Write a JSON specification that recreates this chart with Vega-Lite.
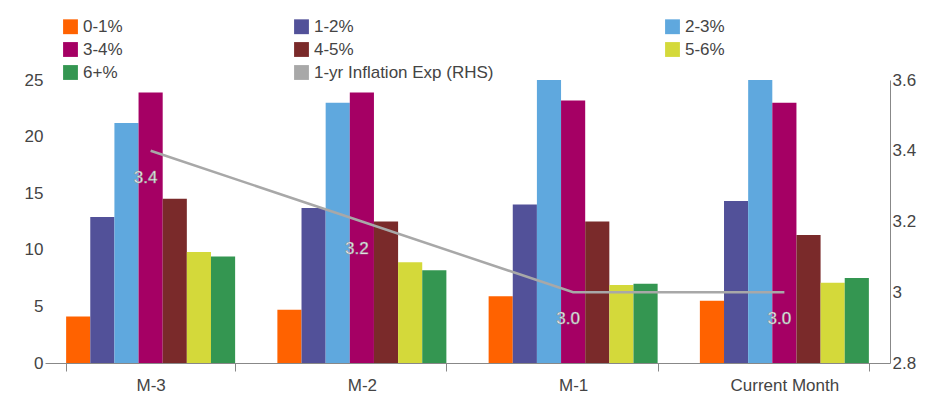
{
"$schema":"https://vega.github.io/schema/vega-lite/v6.json",
"autosize":{"type":"none"},
"padding":{"left":45,"top":80,"right":62,"bottom":53},
"width":845,"height":283,
"config":{"font":"Liberation Sans","view":{"stroke":null},"axis":{"labelFont":"Liberation Sans","labelFontSize":17,"labelColor":"#444","domainColor":"#888","tickColor":"#888","grid":false,"title":null},"legend":{"labelFontSize":17,"labelColor":"#444","labelFont":"Liberation Sans","labelLimit":0}},
"datasets":{
"bars":[
{"m":"M-3","b":"0-1%","v":4.1},{"m":"M-3","b":"1-2%","v":12.9},{"m":"M-3","b":"2-3%","v":21.2},{"m":"M-3","b":"3-4%","v":23.9},{"m":"M-3","b":"4-5%","v":14.5},{"m":"M-3","b":"5-6%","v":9.8},{"m":"M-3","b":"6+%","v":9.4},
{"m":"M-2","b":"0-1%","v":4.7},{"m":"M-2","b":"1-2%","v":13.7},{"m":"M-2","b":"2-3%","v":23.0},{"m":"M-2","b":"3-4%","v":23.9},{"m":"M-2","b":"4-5%","v":12.5},{"m":"M-2","b":"5-6%","v":8.9},{"m":"M-2","b":"6+%","v":8.2},
{"m":"M-1","b":"0-1%","v":5.9},{"m":"M-1","b":"1-2%","v":14.0},{"m":"M-1","b":"2-3%","v":25.0},{"m":"M-1","b":"3-4%","v":23.2},{"m":"M-1","b":"4-5%","v":12.5},{"m":"M-1","b":"5-6%","v":6.9},{"m":"M-1","b":"6+%","v":7.0},
{"m":"Current Month","b":"0-1%","v":5.5},{"m":"Current Month","b":"1-2%","v":14.3},{"m":"Current Month","b":"2-3%","v":25.0},{"m":"Current Month","b":"3-4%","v":23.0},{"m":"Current Month","b":"4-5%","v":11.3},{"m":"Current Month","b":"5-6%","v":7.1},{"m":"Current Month","b":"6+%","v":7.5}],
"line":[{"m":"M-3","b":"1-yr Inflation Exp (RHS)","e":3.4},{"m":"M-2","b":"1-yr Inflation Exp (RHS)","e":3.2},{"m":"M-1","b":"1-yr Inflation Exp (RHS)","e":3.0},{"m":"Current Month","b":"1-yr Inflation Exp (RHS)","e":3.0}]
},
"encoding":{"x":{"field":"m","type":"nominal","sort":null,"scale":{"paddingInner":0.2,"paddingOuter":0.1},"axis":{"labelAngle":0,"tickBand":"extent","tickSize":8,"labelPadding":6}}},
"layer":[
{"data":{"name":"bars"},"mark":{"type":"bar"},
"encoding":{"xOffset":{"field":"b","sort":null},"y":{"field":"v","type":"quantitative","scale":{"domain":[0,25]},"axis":{"values":[0,5,10,15,20,25],"domain":false,"ticks":false}},
"color":{"field":"b","type":"nominal","scale":{"domain":["0-1%","1-2%","2-3%","3-4%","4-5%","5-6%","6+%","1-yr Inflation Exp (RHS)"],"range":["#FF6200","#525199","#5FA8DE","#A50064","#7A2A2A","#D4D93A","#349651","#A8A8A8"]},
"legend":{"orient":"none","legendX":17,"legendY":-62,"direction":"horizontal","columns":3,"columnPadding":170,"rowPadding":5,"symbolType":"square","symbolSize":220,"title":null}}}},
{"data":{"name":"line"},
"encoding":{"y":{"field":"e","type":"quantitative","scale":{"domain":[2.8,3.6]},"axis":{"orient":"right","values":[2.8,3,3.2,3.4,3.6],"labelExpr":"datum.value==3?'3':format(datum.value,'.1f')","domain":true,"ticks":false}}},
"layer":[
{"mark":{"type":"line","strokeWidth":2.5,"color":"#A8A8A8"}},
{"mark":{"type":"text","dy":27,"dx":-5,"fontSize":17,"fill":"#ffffff","stroke":"#999","strokeWidth":0.6},"encoding":{"text":{"field":"e","format":".1f"}}}
]}
],
"resolve":{"scale":{"y":"independent"},"axis":{"y":"independent"}}
}
